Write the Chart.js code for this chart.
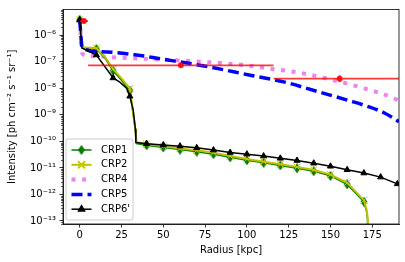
<!DOCTYPE html>
<html>
<head>
<meta charset="utf-8">
<script src="https://cdn.jsdelivr.net/npm/chart.js@4.4.1/dist/chart.umd.min.js"></script>
<style>
  html, body { margin: 0; padding: 0; background: #fff; }
  #wrap { width: 405px; height: 262px; }
</style>
</head>
<body>
<div id="wrap"><canvas id="profileChart"></canvas></div>
<script>
// tick labels
const xTicks = [0, 25, 50, 75, 100, 125, 150, 175];
const yTicks = [1e-13, 1e-12, 1e-11, 1e-10, 1e-9, 1e-8, 1e-7, 1e-6];

// CRP1
const crp1X = [0, 1.5, 10, 15, 20, 25, 30, 32, 33.5, 34, 40, 50, 60, 70, 80, 90, 100, 110, 120, 130, 140, 150, 160, 170, 171.5, 172.2, 172.5];
const crp1Y = [3.8e-6, 3.4e-7, 3.0e-7, 1.4e-7, 4.6e-8, 2.0e-8, 8.2e-9, 1e-9, 2e-10, 8.3e-11, 7.1e-11, 5.9e-11, 4.9e-11, 4.1e-11, 3.3e-11, 2.5e-11, 1.95e-11, 1.55e-11, 1.24e-11, 9.7e-12, 7.5e-12, 5.0e-12, 2.4e-12, 5.3e-13, 2.4e-13, 1.15e-13, 1e-15];

// CRP2
const crp2X = [0, 1.5, 10, 15, 20, 25, 30, 32, 33.5, 34, 40, 50, 60, 70, 80, 90, 100, 110, 120, 130, 140, 150, 160, 170, 171.6, 172.3, 172.6];
const crp2Y = [3.8e-6, 3.5e-7, 3.2e-7, 1.55e-7, 5.3e-8, 2.35e-8, 9.8e-9, 1.15e-9, 2.3e-10, 9.2e-11, 7.9e-11, 6.5e-11, 5.4e-11, 4.6e-11, 3.7e-11, 2.8e-11, 2.15e-11, 1.72e-11, 1.37e-11, 1.08e-11, 8.4e-12, 5.6e-12, 2.75e-12, 6.1e-13, 2.7e-13, 1.3e-13, 1e-15];

// CRP4
const crp4X = [0, 1.6, 6, 18, 50, 76, 100, 114, 132, 152, 170, 188, 191];
const crp4Y = [3.6e-6, 2.0e-7, 1.65e-7, 1.5e-7, 1.2e-7, 9.7e-8, 7.3e-8, 5.5e-8, 3.8e-8, 2.0e-8, 1.0e-8, 4.2e-9, 3.3e-9];

// CRP5
const crp5X = [0, 1.5, 12, 34, 48, 78, 102, 122, 142, 162, 172, 182, 191];
const crp5Y = [3.8e-6, 3.4e-7, 2.4e-7, 1.8e-7, 1.3e-7, 6.3e-8, 3.1e-8, 1.75e-8, 7.6e-9, 3.3e-9, 2.1e-9, 1.2e-9, 5.5e-10];

// CRP6'
const crp6X = [0, 1.3, 10, 20, 24, 28, 30, 32, 33.3, 33.6, 40, 50, 60, 70, 80, 90, 100, 110, 120, 130, 140, 150, 160, 170, 180, 190];
const crp6Y = [3.8e-6, 3.3e-7, 1.8e-7, 2.45e-8, 1.7e-8, 1.0e-8, 5e-9, 1.5e-9, 3e-10, 9e-11, 8.2e-11, 7.3e-11, 6.6e-11, 5.7e-11, 4.7e-11, 3.8e-11, 3.3e-11, 2.8e-11, 2.3e-11, 1.9e-11, 1.5e-11, 1.15e-11, 8.5e-12, 6.4e-12, 4.5e-12, 2.5e-12];

// observed data (red)
const obsX = [2.5, 60.5, 155.5];
const obsY = [3.4e-6, 7.3e-8, 2.3e-8];
const obsXErr = [2.5, 55.5, 39.5];
const obsYLo = [2.8e-6, 5.9e-8, 1.7e-8];
const obsYHi = [4.1e-6, 9.1e-8, 3.1e-8];

const pts = (xs, ys) => xs.map((x, i) => ({ x: x, y: ys[i] }));
const every10 = r => ctx => (ctx.raw && ctx.raw.x % 10 === 0 ? r : 0);

// thin diamond marker like matplotlib 'd'
const thinDiamond = document.createElement('canvas');
thinDiamond.width = 8; thinDiamond.height = 10;
(function () {
  const c = thinDiamond.getContext('2d');
  c.fillStyle = '#008000';
  c.strokeStyle = '#006000';
  c.lineWidth = 0.8;
  c.beginPath();
  c.moveTo(4, 0.5); c.lineTo(7, 5); c.lineTo(4, 9.5); c.lineTo(1, 5); c.closePath();
  c.fill(); c.stroke();
})();

const supMap = { '-': '\u207B', '0': '\u2070', '1': '\u00B9', '2': '\u00B2', '3': '\u00B3', '4': '\u2074', '5': '\u2075', '6': '\u2076', '7': '\u2077', '8': '\u2078', '9': '\u2079' };
const powLabel = v => '10' + String(Math.round(Math.log10(v))).split('').map(c => supMap[c]).join('');

Chart.defaults.font.family = "'DejaVu Sans', sans-serif";
Chart.defaults.font.size = 10;
Chart.defaults.color = '#000';

// frame + minor ticks
const framePlugin = {
  id: 'frame',
  afterDraw(chart) {
    const { ctx, chartArea: a, scales } = chart;
    ctx.save();
    ctx.strokeStyle = '#000';
    ctx.lineWidth = 0.8;
    ctx.strokeRect(a.left, a.top, a.right - a.left, a.bottom - a.top);
    const y = scales.y;
    ctx.lineWidth = 0.6;
    for (let e = -14; e <= -5; e++) {
      for (let k = 2; k <= 9; k++) {
        const v = k * Math.pow(10, e);
        if (v < y.min || v > y.max) continue;
        const py = Math.round(y.getPixelForValue(v)) + 0.5;
        ctx.beginPath();
        ctx.moveTo(a.left - 2, py);
        ctx.lineTo(a.left, py);
        ctx.stroke();
      }
    }
    ctx.restore();
  }
};

// red error bars
const errPlugin = {
  id: 'errbars',
  afterDatasetsDraw(chart) {
    const { ctx, chartArea: a, scales } = chart;
    ctx.save();
    ctx.beginPath();
    ctx.rect(a.left, a.top, a.right - a.left, a.bottom - a.top);
    ctx.clip();
    ctx.strokeStyle = 'rgba(255,0,0,0.78)';
    ctx.lineWidth = 1.8;
    obsX.forEach((x, i) => {
      const py = scales.y.getPixelForValue(obsY[i]);
      const px = scales.x.getPixelForValue(x);
      ctx.beginPath();
      ctx.moveTo(scales.x.getPixelForValue(x - obsXErr[i]), py);
      ctx.lineTo(scales.x.getPixelForValue(x + obsXErr[i]), py);
      ctx.moveTo(px, scales.y.getPixelForValue(obsYLo[i]));
      ctx.lineTo(px, scales.y.getPixelForValue(obsYHi[i]));
      ctx.stroke();
    });
    ctx.restore();
  }
};

// legend in lower left, matplotlib style
const legendPlugin = {
  id: 'mplLegend',
  afterDraw(chart) {
    const ctx = chart.ctx;
    const items = chart.data.datasets.filter(d => d.label);
    const x0 = 66, y0 = 139, w = 67, h = 81;
    ctx.save();
    ctx.beginPath();
    ctx.roundRect(x0, y0, w, h, 2);
    ctx.fillStyle = 'rgba(255,255,255,0.8)';
    ctx.fill();
    ctx.strokeStyle = '#cccccc';
    ctx.lineWidth = 1;
    ctx.stroke();
    items.forEach((d, i) => {
      const yy = 150 + i * 14.8;
      ctx.beginPath();
      ctx.setLineDash(d.borderDash || []);
      ctx.lineDashOffset = 0;
      ctx.strokeStyle = d.borderColor;
      ctx.lineWidth = d.borderWidth;
      ctx.moveTo(71.5, yy);
      ctx.lineTo(91.5, yy);
      ctx.stroke();
      ctx.setLineDash([]);
      if (d.legendMarker) {
        ctx.fillStyle = d.pointBackgroundColor;
        ctx.strokeStyle = d.pointBorderColor;
        Chart.helpers.drawPoint(ctx, {
          pointStyle: d.pointStyle, radius: d.legendMarker, rotation: 0, borderWidth: d.pointBorderWidth
        }, 81.5, yy);
      }
      ctx.fillStyle = '#000';
      ctx.font = "10px 'DejaVu Sans'";
      ctx.textBaseline = 'middle';
      ctx.textAlign = 'left';
      ctx.fillText(d.label, 101, yy);
    });
    ctx.restore();
  }
};

new Chart(document.getElementById('profileChart'), {
  type: 'line',
  data: {
    datasets: [
      {
        label: '',
        data: pts(obsX, obsY),
        showLine: false,
        pointStyle: 'circle',
        pointRadius: 3,
        pointBackgroundColor: 'rgba(255,0,0,0.85)',
        pointBorderColor: 'rgba(255,0,0,0.85)',
        pointBorderWidth: 0,
        order: 0
      },
      {
        label: 'CRP1',
        data: pts(crp1X, crp1Y),
        borderColor: '#008000',
        borderWidth: 1.5,
        pointStyle: thinDiamond,
        pointRadius: every10(4),
        pointBackgroundColor: '#008000',
        pointBorderColor: '#008000',
        pointBorderWidth: 1,
        legendMarker: 4,
        order: 3
      },
      {
        label: 'CRP2',
        data: pts(crp2X, crp2Y),
        borderColor: '#bfbf00',
        borderWidth: 2,
        pointStyle: 'crossRot',
        pointRadius: every10(5),
        pointBackgroundColor: '#bfbf00',
        pointBorderColor: '#c8c800',
        pointBorderWidth: 1,
        legendMarker: 5,
        order: 2
      },
      {
        label: 'CRP4',
        data: pts(crp4X, crp4Y),
        borderColor: '#ee82ee',
        borderWidth: 4,
        borderDash: [4, 6.6],
        pointRadius: 0,
        cubicInterpolationMode: 'monotone',
        order: 4
      },
      {
        label: 'CRP5',
        data: pts(crp5X, crp5Y),
        borderColor: '#0000ff',
        borderWidth: 3.5,
        borderDash: [11, 5],
        pointRadius: 0,
        cubicInterpolationMode: 'monotone',
        order: 1.5
      },
      {
        label: "CRP6'",
        data: pts(crp6X, crp6Y),
        borderColor: '#000000',
        borderWidth: 1.5,
        pointStyle: 'triangle',
        pointRadius: every10(3.5),
        pointBackgroundColor: '#000000',
        pointBorderColor: '#000000',
        pointBorderWidth: 1,
        legendMarker: 3.5,
        order: 1
      }
    ]
  },
  options: {
    responsive: true,
    maintainAspectRatio: false,
    animation: false,
    events: [],
    layout: { padding: { top: 7, right: 6, left: 0, bottom: 0 } },
    plugins: { legend: { display: false }, tooltip: { enabled: false } },
    scales: {
      x: {
        type: 'linear',
        min: -10,
        max: 191,
        afterBuildTicks: s => { s.ticks = xTicks.map(v => ({ value: v })); },
        afterFit: s => { s.height = 38; },
        ticks: { autoSkip: false, maxRotation: 0, padding: 2, color: '#000' },
        grid: { drawOnChartArea: false, tickLength: 3.5, tickColor: '#000', tickWidth: 0.8 },
        border: { color: '#000', width: 0.8 },
        title: { display: true, text: 'Radius [kpc]', color: '#000', padding: { top: 0, bottom: 6 } }
      },
      y: {
        type: 'logarithmic',
        min: 7.7e-14,
        max: 9.3e-6,
        afterBuildTicks: s => { s.ticks = yTicks.map(v => ({ value: v })); },
        afterFit: s => { s.width = 63; },
        ticks: { autoSkip: false, padding: 3.5, color: '#000', callback: v => powLabel(v) },
        grid: { drawOnChartArea: false, tickLength: 3.5, tickColor: '#000', tickWidth: 0.8 },
        border: { color: '#000', width: 0.8 },
        title: { display: true, text: 'Intensity [ph cm\u207B\u00B2 s\u207B\u00B9 sr\u207B\u00B9]', color: '#000', padding: { top: 6, bottom: 0 } }
      }
    }
  },
  plugins: [framePlugin, errPlugin, legendPlugin]
});
</script>
</body>
</html>
